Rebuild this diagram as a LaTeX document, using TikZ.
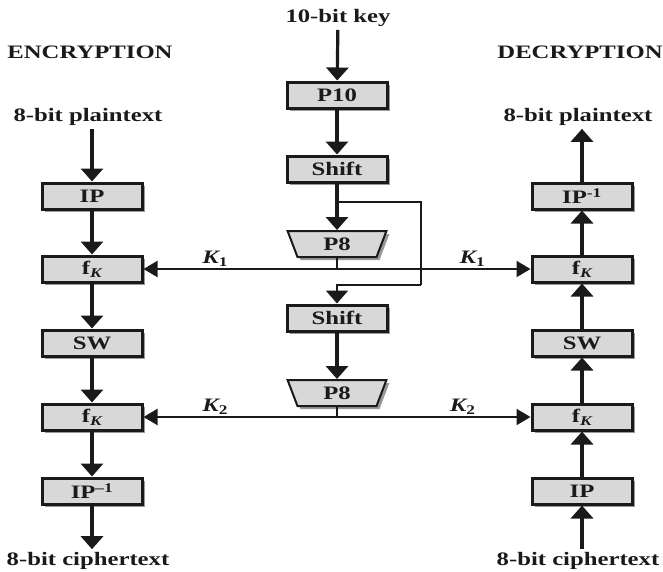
\documentclass[tikz,border=0pt]{standalone}
\usepackage{fontspec}
\setmainfont{Liberation Serif}[FakeStretch=1.3]
\usetikzlibrary{arrows.meta,positioning,shapes.geometric,shadows,calc}
\definecolor{boxgray}{HTML}{D8D8D8}
\definecolor{shadegray}{HTML}{9A9A9A}
\definecolor{inkdark}{HTML}{1A1A1A}

\begin{document}
\begin{tikzpicture}[
  x=1pt,y=-1pt,
  every node/.style={font=\fontsize{19}{21}\selectfont\bfseries,align=center,text=inkdark},
  stagebox/.style={draw=inkdark,line width=3pt,fill=boxgray,minimum width=100pt,minimum height=26pt,inner sep=0pt,
    drop shadow={shadow xshift=3pt,shadow yshift=-3pt,fill=shadegray,opacity=1}},
  permbox/.style={trapezium,shape border rotate=180,trapezium angle=75,trapezium stretches=true,draw=inkdark,line width=2pt,
    fill=boxgray,minimum width=99pt,minimum height=26pt,inner sep=0pt,
    drop shadow={shadow xshift=3pt,shadow yshift=-3pt,fill=shadegray,opacity=1}},
  caption/.style={inner sep=3pt},
  keylabel/.style={font=\fontsize{19}{21}\selectfont\bfseries\itshape,above,inner sep=2pt},
  arrow/.style={-{Triangle[length=13pt,width=22pt]},line width=3.2pt,draw=inkdark},
  keyarrow/.style={-{Triangle[length=14pt,width=16pt]},line width=2pt,draw=inkdark},
  keyline/.style={line width=2pt,draw=inkdark}
]
\useasboundingbox (0,0) rectangle (663,571);

% key generation
\node[caption] (key) at (338,18) {10-bit key};
\node[stagebox] (p10) at (337,95) {P10};
\node[stagebox] (shiftA) at (337,169) {Shift};
\node[permbox] (p8A) at (337,244) {P8};
\node[stagebox] (shiftB) at (337,318) {Shift};
\node[permbox] (p8B) at (337,393) {P8};

% encryption
\node[caption] (enc) at (90,52) {ENCRYPTION};
\node[caption] (plainE) at (88,117) {8-bit plaintext};
\node[stagebox] (ipE) at (92,196) {IP};
\node[stagebox] (fkE1) at (92,269) {f\textsubscript{\itshape K}};
\node[stagebox] (swE) at (92,343) {SW};
\node[stagebox] (fkE2) at (92,417) {f\textsubscript{\itshape K}};
\node[stagebox] (ipinvE) at (92,491) {IP\textsuperscript{--1}};
\node[caption] (cipherE) at (88,561) {8-bit ciphertext};

% decryption
\node[caption] (dec) at (580,52) {DECRYPTION};
\node[caption] (plainD) at (578,117) {8-bit plaintext};
\node[stagebox] (ipinvD) at (582,196) {IP\textsuperscript{-1}};
\node[stagebox] (fkD1) at (582,269) {f\textsubscript{\itshape K}};
\node[stagebox] (swD) at (582,343) {SW};
\node[stagebox] (fkD2) at (582,417) {f\textsubscript{\itshape K}};
\node[stagebox] (ipD) at (582,491) {IP};
\node[caption] (cipherD) at (578,561) {8-bit ciphertext};

\coordinate (split) at (337,202);
\coordinate (loop) at (421,285);
\coordinate (k1) at (337,269);
\coordinate (k2) at (337,417);

% key schedule
\draw[arrow] (key) -- (p10);
\draw[arrow] (p10) -- (shiftA);
\draw[arrow] (shiftA) -- (p8A);
\draw[keyline] (split) -| (loop);
\draw[keyarrow,-{Triangle[length=13pt,width=22pt]}] (loop) -| (shiftB);
\draw[arrow] (shiftB) -- (p8B);
\draw[keyline] (p8A) -- (k1);
\draw[keyline] (p8B) -- (k2);
\draw[keyarrow] (k1) -- node[keylabel,pos=0.63]{K\textsubscript{\upshape 1}} (fkE1);
\draw[keyarrow] (k1) -- node[keylabel,pos=0.7]{K\textsubscript{\upshape 1}} (fkD1);
\draw[keyarrow] (k2) -- node[keylabel,pos=0.63]{K\textsubscript{\upshape 2}} (fkE2);
\draw[keyarrow] (k2) -- node[keylabel,pos=0.65]{K\textsubscript{\upshape 2}} (fkD2);

% encryption path
\draw[arrow] (plainE.south -| ipE) -- (ipE);
\draw[arrow] (ipE) -- (fkE1);
\draw[arrow] (fkE1) -- (swE);
\draw[arrow] (swE) -- (fkE2);
\draw[arrow] (fkE2) -- (ipinvE);
\draw[arrow] (ipinvE) -- (cipherE.north -| ipinvE);

% decryption path
\draw[arrow] (cipherD.north -| ipD) -- (ipD);
\draw[arrow] (ipD) -- (fkD2);
\draw[arrow] (fkD2) -- (swD);
\draw[arrow] (swD) -- (fkD1);
\draw[arrow] (fkD1) -- (ipinvD);
\draw[arrow] (ipinvD) -- (plainD.south -| ipinvD);
\end{tikzpicture}
\end{document}
